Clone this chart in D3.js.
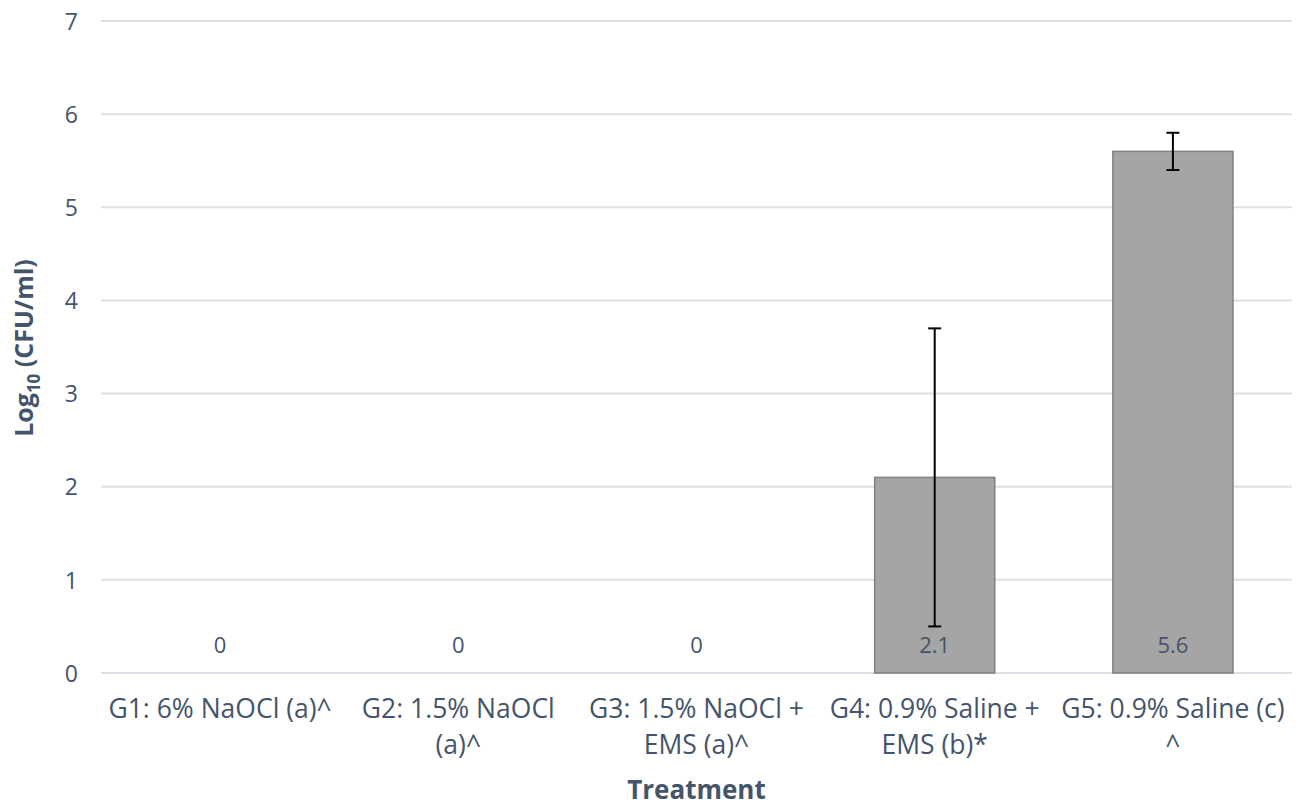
<!DOCTYPE html>
<html>
<head>
<meta charset="utf-8">
<script src="https://cdn.jsdelivr.net/npm/d3@7"></script>
<style>
  html, body { margin: 0; padding: 0; background: #fff; }
  svg { display: block; }
  text { font-family: "Open Sans", "Noto Sans", sans-serif; fill: #44546A; }
</style>
</head>
<body>
<svg id="chart" width="1302" height="806"></svg>
<script>
const categories = [
  ["G1: 6% NaOCl (a)^"],
  ["G2: 1.5% NaOCl", "(a)^"],
  ["G3: 1.5% NaOCl +", "EMS (a)^"],
  ["G4: 0.9% Saline +", "EMS (b)*"],
  ["G5: 0.9% Saline (c)", "^"]
];
const categoryIds = ["G1", "G2", "G3", "G4", "G5"];
const values = [0, 0, 0, 2.1, 5.6];
const errors = [0, 0, 0, 1.6, 0.2];
const dataLabels = ["0", "0", "0", "2.1", "5.6"];
const yTicks = [0, 1, 2, 3, 4, 5, 6, 7];

const svg = d3.select("#chart");
const mLeft = 101, mRight = 1292, mTop = 21, mBottom = 673;

const x = d3.scaleBand().domain(categoryIds).range([mLeft, mRight])
  .paddingInner(0.496).paddingOuter(0.248);
const y = d3.scaleLinear().domain([0, 7]).range([mBottom, mTop]);

// gridlines
svg.append("g").selectAll("line").data(yTicks).join("line")
  .attr("x1", mLeft).attr("x2", mRight)
  .attr("y1", d => y(d)).attr("y2", d => y(d))
  .attr("stroke", "#DCE0E6").attr("stroke-width", 2);

// y axis tick labels
const yAxis = d3.axisLeft(y).tickValues(yTicks).tickFormat(d3.format("d")).tickSize(0).tickPadding(23);
const gy = svg.append("g").attr("transform", `translate(${mLeft},0)`).call(yAxis);
gy.select(".domain").remove();
gy.selectAll("text").style("font-size", "23px").attr("fill", "#44546A")
  .style("font-family", '"Open Sans", sans-serif').attr("dy", "0.36em");

// bars
svg.append("g").selectAll("rect").data(values).join("rect")
  .attr("x", (d, i) => x(categoryIds[i]))
  .attr("width", x.bandwidth())
  .attr("y", d => y(d))
  .attr("height", d => y(0) - y(d))
  .attr("fill", "#A5A5A5")
  .attr("stroke", "#7F7F7F").attr("stroke-width", 1.5)
  .attr("display", d => d > 0 ? null : "none");

// data labels
svg.append("g").selectAll("text").data(dataLabels).join("text")
  .attr("x", (d, i) => x(categoryIds[i]) + x.bandwidth() / 2)
  .attr("y", y(0) - 20)
  .attr("text-anchor", "middle")
  .style("font-size", "22px")
  .text(d => d);

// error bars
const eb = svg.append("g").selectAll("g").data(values.map((v, i) => ({v, e: errors[i], id: categoryIds[i]})).filter(d => d.e > 0)).join("g");
const cx = d => x(d.id) + x.bandwidth() / 2;
eb.append("line").attr("x1", cx).attr("x2", cx)
  .attr("y1", d => y(d.v + d.e)).attr("y2", d => y(d.v - d.e))
  .attr("stroke", "#000").attr("stroke-width", 2);
eb.append("line").attr("x1", d => cx(d) - 6.5).attr("x2", d => cx(d) + 6.5)
  .attr("y1", d => y(d.v + d.e)).attr("y2", d => y(d.v + d.e))
  .attr("stroke", "#000").attr("stroke-width", 2);
eb.append("line").attr("x1", d => cx(d) - 6.5).attr("x2", d => cx(d) + 6.5)
  .attr("y1", d => y(d.v - d.e)).attr("y2", d => y(d.v - d.e))
  .attr("stroke", "#000").attr("stroke-width", 2);

// category labels
const cl = svg.append("g").selectAll("text").data(categories).join("text")
  .attr("text-anchor", "middle")
  .style("font-size", "26.5px");
cl.each(function(lines, i) {
  const t = d3.select(this);
  lines.forEach((ln, j) => {
    t.append("tspan")
      .attr("x", x(categoryIds[i]) + x.bandwidth() / 2)
      .attr("y", 718 + j * 36)
      .text(ln);
  });
});

// axis titles
svg.append("text")
  .attr("x", (mLeft + mRight) / 2).attr("y", 799)
  .attr("text-anchor", "middle")
  .style("font-size", "26px").style("font-weight", "bold")
  .text("Treatment");

const yt = svg.append("text")
  .attr("transform", `translate(33,348) rotate(-90)`)
  .attr("text-anchor", "middle")
  .style("font-size", "25px").style("font-weight", "bold");
yt.append("tspan").text("Log");
yt.append("tspan").attr("dy", 7).style("font-size", "17px").text("10");
yt.append("tspan").attr("dy", -7).text(" (CFU/ml)");
</script>
</body>
</html>
